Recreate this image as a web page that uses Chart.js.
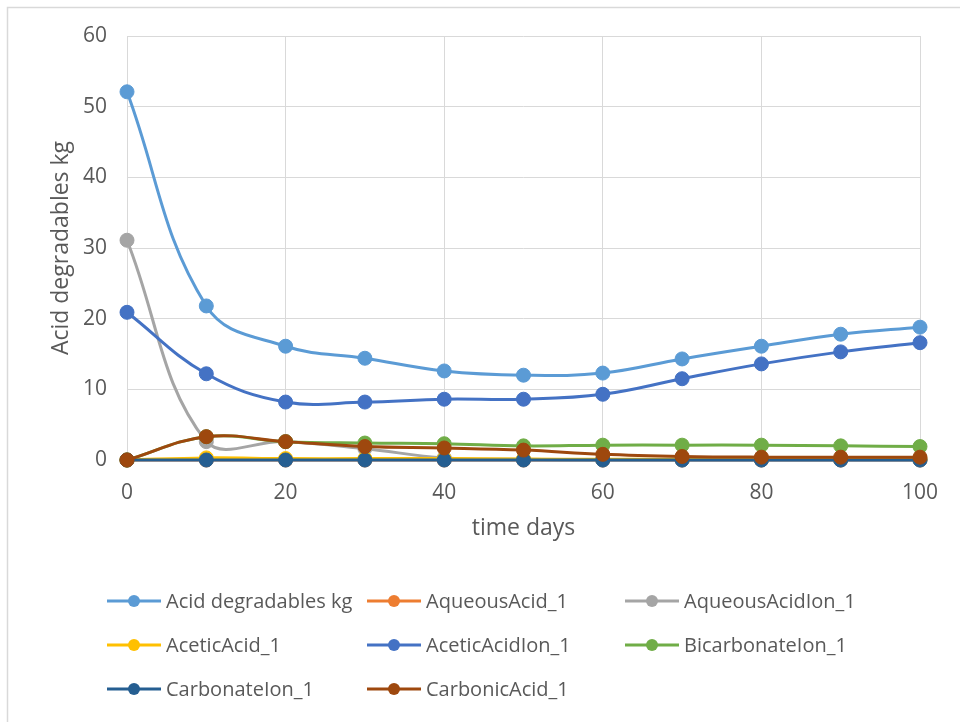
<!DOCTYPE html>
<html>
<head>
<meta charset="utf-8">
<script src="https://cdn.jsdelivr.net/npm/chart.js@4/dist/chart.umd.min.js"></script>
<style>
  html, body { margin: 0; padding: 0; background: #ffffff; }
  #wrap { width: 960px; height: 722px; position: relative; }
</style>
</head>
<body>
<div id="wrap"><canvas id="c" width="960" height="722"></canvas></div>
<script>
// Simulation output: species masses (kg) over time (days)
const timeDays = [0, 10, 20, 30, 40, 50, 60, 70, 80, 90, 100];

const acidDegradables = [52.1, 21.8, 16.1, 14.4, 12.6, 12.0, 12.3, 14.3, 16.1, 17.8, 18.8];
const aqueousAcid     = [0, 0, 0, 0, 0, 0, 0, 0, 0, 0, 0];
const aqueousAcidIon  = [31.1, 2.6, 2.6, 1.6, 0.3, 0.1, 0, 0, 0, 0, 0];
const aceticAcid      = [0, 0.3, 0.2, 0.2, 0.2, 0.15, 0.1, 0.1, 0.1, 0.1, 0.1];
const aceticAcidIon   = [20.9, 12.2, 8.2, 8.2, 8.6, 8.6, 9.3, 11.5, 13.6, 15.3, 16.6];
const bicarbonateIon  = [0, 3.3, 2.6, 2.4, 2.3, 2.0, 2.1, 2.1, 2.1, 2.0, 1.9];
const carbonateIon    = [0, 0, 0, 0, 0, 0, 0, 0, 0, 0, 0];
const carbonicAcid    = [0, 3.3, 2.6, 1.9, 1.7, 1.4, 0.8, 0.5, 0.4, 0.4, 0.4];

const seriesNames = [
  'Acid degradables kg', 'AqueousAcid_1', 'AqueousAcidIon_1',
  'AceticAcid_1', 'AceticAcidIon_1', 'BicarbonateIon_1',
  'CarbonateIon_1', 'CarbonicAcid_1'
];
const seriesValues = [
  acidDegradables, aqueousAcid, aqueousAcidIon,
  aceticAcid, aceticAcidIon, bicarbonateIon,
  carbonateIon, carbonicAcid
];
const seriesColors = [
  '#5B9BD5', '#ED7D31', '#A5A5A5',
  '#FFC000', '#4472C4', '#70AD47',
  '#255E91', '#9E480E'
];

const yTicks = [0, 10, 20, 30, 40, 50, 60];
const xTicks = [0, 20, 40, 60, 80, 100];

const FONT = "'Open Sans', 'DejaVu Sans', sans-serif";
const TEXT = '#595959';
const GRID = '#D9D9D9';

const datasets = seriesNames.map((name, i) => ({
  label: name,
  data: timeDays.map((t, k) => ({ x: t, y: seriesValues[i][k] })),
  borderColor: seriesColors[i],
  backgroundColor: seriesColors[i],
  pointBackgroundColor: seriesColors[i],
  pointBorderColor: seriesColors[i],
  pointRadius: 7,
  pointBorderWidth: 1,
  borderWidth: 3,
  tension: 0.4,
  fill: false,
  clip: false,
  // later series are painted over earlier ones
  order: seriesNames.length - i
}));

// Light frame around the chart
const framePlugin = {
  id: 'frame',
  beforeDraw(chart) {
    const ctx = chart.ctx;
    ctx.save();
    ctx.fillStyle = '#ffffff';
    ctx.fillRect(0, 0, chart.width, chart.height);
    ctx.strokeStyle = '#D9D9D9';
    ctx.lineWidth = 1.5;
    ctx.strokeRect(7.5, 7.5, chart.width + 10, chart.height + 10);
    ctx.restore();
  }
};

// Three-column legend with line-and-marker swatches
const legendPlugin = {
  id: 'gridLegend',
  afterDraw(chart) {
    const ctx = chart.ctx;
    const colX = [107, 367, 625];
    const rowY = [601, 645, 689];
    ctx.save();
    ctx.font = '20px ' + FONT;
    ctx.textBaseline = 'middle';
    ctx.textAlign = 'left';
    chart.data.datasets.forEach((ds, i) => {
      const x = colX[i % 3];
      const y = rowY[Math.floor(i / 3)];
      ctx.strokeStyle = ds.borderColor;
      ctx.lineWidth = 3;
      ctx.beginPath();
      ctx.moveTo(x, y);
      ctx.lineTo(x + 54, y);
      ctx.stroke();
      ctx.fillStyle = ds.borderColor;
      ctx.beginPath();
      ctx.arc(x + 27, y, 6, 0, Math.PI * 2);
      ctx.fill();
      ctx.fillStyle = TEXT;
      ctx.fillText(ds.label, x + 59, y + 1);
    });
    ctx.restore();
  }
};

new Chart(document.getElementById('c'), {
  type: 'line',
  data: { datasets },
  plugins: [framePlugin, legendPlugin],
  options: {
    responsive: false,
    animation: false,
    layout: { padding: { left: 48, right: 40, top: 36, bottom: 180 } },
    plugins: {
      legend: { display: false },
      tooltip: { enabled: false }
    },
    scales: {
      x: {
        type: 'linear',
        min: 0,
        max: 100,
        afterBuildTicks(scale) { scale.ticks = xTicks.map(v => ({ value: v })); },
        afterFit(scale) { scale.height = 82; },
        grid: { color: GRID, lineWidth: 1, drawTicks: false, tickLength: 0 },
        border: { display: false },
        ticks: { color: TEXT, font: { family: FONT, size: 21 }, padding: 20, maxRotation: 0 },
        title: {
          display: true,
          text: 'time days',
          color: TEXT,
          font: { family: FONT, size: 23 },
          padding: { top: 0, bottom: 0 }
        }
      },
      y: {
        type: 'linear',
        min: 0,
        max: 60,
        afterBuildTicks(scale) { scale.ticks = yTicks.map(v => ({ value: v })); },
        afterFit(scale) { scale.width = 79; },
        grid: { color: GRID, lineWidth: 1, drawTicks: false, tickLength: 0 },
        border: { display: false },
        ticks: { color: TEXT, font: { family: FONT, size: 21 }, padding: 20 },
        title: {
          display: true,
          text: 'Acid degradables kg',
          color: TEXT,
          font: { family: FONT, size: 23 },
          padding: { top: 0, bottom: 0 }
        }
      }
    }
  }
});
</script>
</body>
</html>
